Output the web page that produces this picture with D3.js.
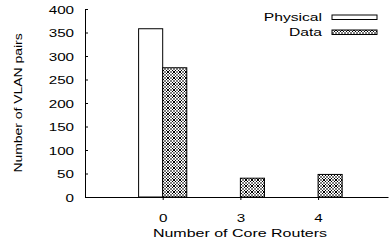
<!DOCTYPE html>
<html>
<head>
<meta charset="utf-8">
<style>
  html, body { margin: 0; padding: 0; background: #fff; }
  svg text { font-family: "Liberation Sans", Arial, sans-serif; font-size: 11.5px; fill: #000; }
</style>
</head>
<body>
<svg id="chart"></svg>
<script src="https://cdnjs.cloudflare.com/ajax/libs/d3/7.8.5/d3.min.js"></script>
<script>
// values
var categories = ["0", "3", "4"];
var physical = [358, 0, 0];
var dataPairs = [275, 40, 48];
var yTicks = [0, 50, 100, 150, 200, 250, 300, 350, 400];
var seriesNames = ["Physical", "Data"];

var width = 389, height = 244;
var plot = { x0: 85, x1: 388, y0: 9, y1: 197 };

var svg = d3.select("#chart").attr("width", width).attr("height", height);

// gnuplot-ish crosshatch with dots
var defs = svg.append("defs");
var pat = defs.append("pattern")
    .attr("id", "hatch")
    .attr("patternUnits", "userSpaceOnUse")
    .attr("width", 6).attr("height", 6);
pat.append("rect").attr("width", 6).attr("height", 6).attr("fill", "#fff");
pat.append("path")
    .attr("d", "M0,0L6,6M6,0L0,6M-1,5L1,7M5,-1L7,1M-1,1L1,-1M5,7L7,5")
    .attr("stroke", "#000").attr("stroke-width", 1);
pat.selectAll("rect.dot")
    .data([[3, 0], [0, 3], [6, 3], [3, 6], [3, 3]])
    .enter().append("rect")
    .attr("class", "dot")
    .attr("x", function(d) { return d[0] - 0.7; })
    .attr("y", function(d) { return d[1] - 0.7; })
    .attr("width", 1.4).attr("height", 1.4)
    .attr("fill", function(d, i) { return i == 4 ? "#fff" : "#000"; });

// horizontally stretched text, like the postscript original
function stretch(sel, k) {
  sel.each(function() {
    var len = this.getComputedTextLength();
    d3.select(this).attr("textLength", len * k).attr("lengthAdjust", "spacingAndGlyphs");
  });
}

var x = d3.scaleLinear().domain([0, 3.9]).range([plot.x0, plot.x1]);
var y = d3.scaleLinear().domain([0, 400]).range([plot.y1, plot.y0]);
var barW = 0.31;

// bars
var rows = [];
categories.forEach(function(c, i) {
  if (physical[i] > 0) rows.push({ pos: i + 1, v: physical[i], s: 0 });
  if (dataPairs[i] > 0) rows.push({ pos: i + 1, v: dataPairs[i], s: 1 });
});

svg.append("g").selectAll("rect")
    .data(rows)
    .enter().append("rect")
    .attr("x", function(d) { return d.s == 0 ? x(d.pos - barW) : x(d.pos); })
    .attr("width", function(d) { return x(barW) - x(0); })
    .attr("y", function(d) { return y(d.v); })
    .attr("height", function(d) { return y(0) - y(d.v); })
    .attr("fill", function(d) { return d.s == 0 ? "#fff" : "url(#hatch)"; })
    .attr("stroke", "#000")
    .attr("stroke-width", 1);

// axes
var yAxis = d3.axisLeft(y).tickValues(yTicks).tickSizeInner(-3).tickSizeOuter(0).tickPadding(10);
var gy = svg.append("g").attr("transform", "translate(" + plot.x0 + ",0)").call(yAxis);
gy.select(".domain").attr("stroke", "#000");
gy.selectAll("text").attr("font-size", null).attr("font-family", null)
    .attr("x", -11).attr("dy", "0.36em");
stretch(gy.selectAll("text"), 1.32);

var xAxis = d3.axisBottom(x).tickValues([1, 2, 3])
    .tickFormat(function(d) { return categories[d - 1]; })
    .tickSizeInner(3).tickSizeOuter(0).tickPadding(10);
var gx = svg.append("g").attr("transform", "translate(0," + plot.y1 + ")").call(xAxis);
gx.selectAll("text").attr("font-size", null).attr("font-family", null).attr("dy", "1.05em");
stretch(gx.selectAll("text"), 1.32);

// axis titles
svg.append("text")
    .attr("x", 240).attr("y", 237)
    .attr("text-anchor", "middle")
    .text("Number of Core Routers")
    .call(stretch, 1.39);

svg.append("text")
    .attr("transform", "translate(22,103) rotate(-90)")
    .attr("text-anchor", "middle")
    .text("Number of VLAN pairs")
    .call(stretch, 1.21);

// legend
var legend = svg.append("g").selectAll("g")
    .data(seriesNames)
    .enter().append("g")
    .attr("transform", function(d, i) { return "translate(0," + (21 + i * 15) + ")"; });
legend.append("text")
    .attr("x", 322).attr("text-anchor", "end")
    .text(function(d) { return d; })
    .call(stretch, 1.36);
legend.append("rect")
    .attr("x", 332).attr("y", -6).attr("width", 45).attr("height", 4.5)
    .attr("fill", function(d, i) { return i == 0 ? "#fff" : "url(#hatch)"; })
    .attr("stroke", "#000").attr("stroke-width", 1);
</script>
</body>
</html>
